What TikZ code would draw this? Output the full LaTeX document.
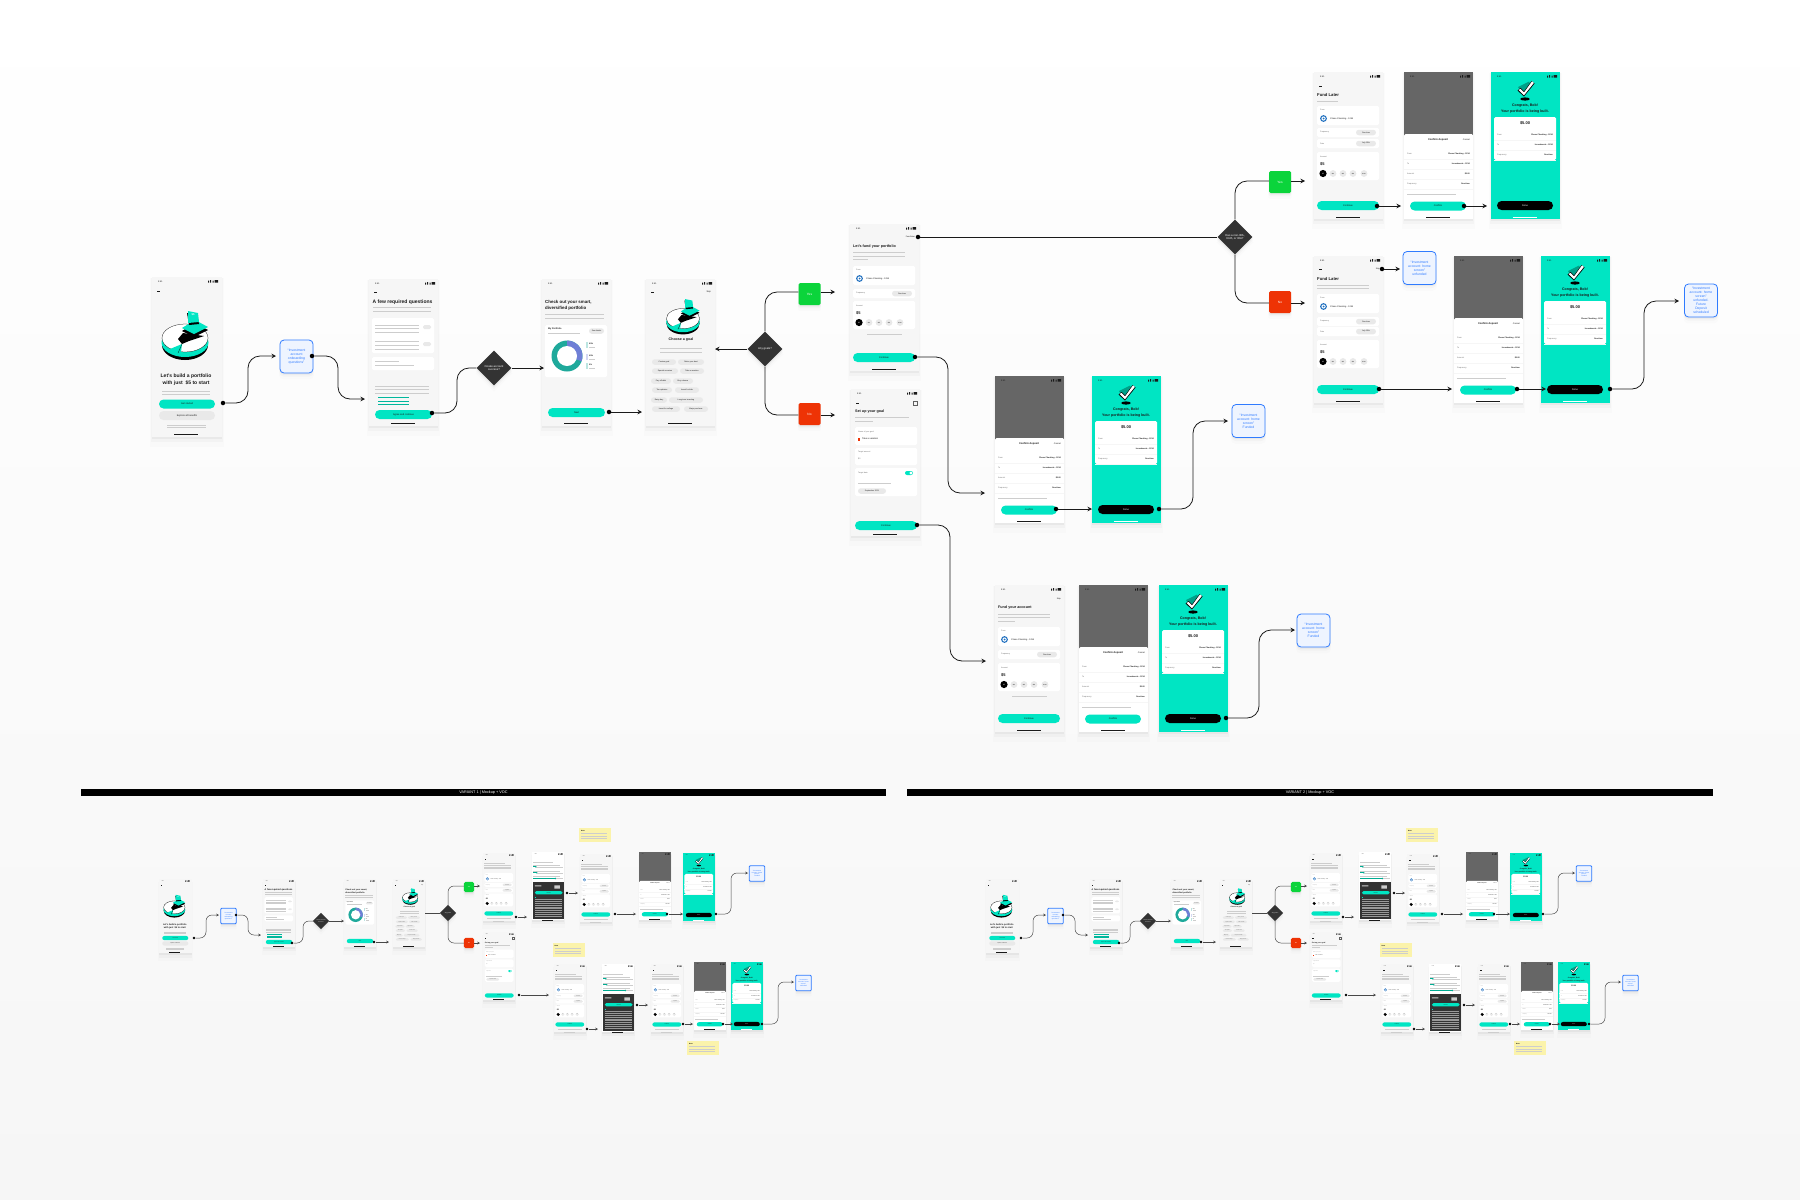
\documentclass[tikz,border=0pt]{standalone}
\usepackage{fontspec}
\setmainfont{Liberation Sans}
\usetikzlibrary{arrows.meta,shapes.geometric,shapes.misc,shadows}
\definecolor{mint}{HTML}{00E5C3}
\definecolor{paper}{HTML}{F6F6F6}
\definecolor{ink}{HTML}{1A1A1A}
\definecolor{faint}{HTML}{CDCDCD}
\definecolor{chipgray}{HTML}{E9E9E9}
\definecolor{slate}{HTML}{333333}
\definecolor{curtain}{HTML}{666666}
\definecolor{bankblue}{HTML}{1F6FBF}
\definecolor{goodgreen}{HTML}{0BD43B}
\definecolor{badred}{HTML}{EE3305}
\definecolor{infoblue}{HTML}{2F7BFF}
\definecolor{infofill}{HTML}{EEF4FF}
\definecolor{notepaper}{HTML}{FBF3AB}
\definecolor{donutteal}{HTML}{1FA99B}
\definecolor{donutblue}{HTML}{6F7FD6}
\newcounter{bitno}
\tikzset{
  sz/.style={font=\fontsize{#1}{#1}\selectfont\setlength\baselineskip{1.15\baselineskip}},
  bittext/.style={inner sep=0,text=ink,sz=2.3,anchor=west,align=left},
  softshadow/.style={
    general shadow={shadow yshift=-1.5pt,shadow scale=1.01,fill=black,opacity=.04},
    general shadow={shadow yshift=-3pt,shadow scale=1.03,fill=black,opacity=.025},
    general shadow={shadow yshift=-5pt,shadow scale=1.06,fill=black,opacity=.012}},
  screen/.style={rectangle,fill=paper,inner sep=0,softshadow},
  btn/.style={rounded rectangle,fill=mint,inner sep=0,minimum height=9,text=ink,sz=2.4},
  chip/.style={rounded rectangle,fill=chipgray,inner sep=0,minimum height=5.5,text=ink,sz=1.9},
  decision/.style={diamond,fill=slate,text=white,inner sep=0,aspect=1,minimum size=35,align=center,sz=2.8,softshadow},
  yesbox/.style={rectangle,rounded corners=1.5,fill=goodgreen,text=white,minimum width=22,minimum height=22,inner sep=0,sz=3.2,softshadow},
  nobox/.style={yesbox,fill=badred},
  infonote/.style={rectangle,rounded corners=4,draw=infoblue,line width=.8pt,fill=infofill,text=infoblue,
    minimum width=33,minimum height=33,inner sep=0,align=center,sz=3.4,softshadow},
  stickynote/.style={rectangle,fill=notepaper,inner sep=0,minimum width=32,minimum height=14},
  banner/.style={rectangle,fill=black,text=white,inner sep=0,minimum height=7.5,sz=3.8},
  startdot/.style={circle,fill=black,inner sep=0,minimum size=4.5},
  link/.style={draw=ink,line width=.8pt,rounded corners=12},
  flow/.style={link,-{Stealth[length=4.5pt,width=4.5pt]}},
  minidot/.style={startdot,minimum size=2.6},
  minilink/.style={draw=ink!80,line width=.5pt,rounded corners=6},
  miniflow/.style={minilink,-{Stealth[length=2.8pt,width=2.8pt]}},
  minishape/.style={scale=.465,transform shape},
  minibox/.style={minishape,rounded corners=.8}
}
\newcommand{\bit}[4][]{\stepcounter{bitno}\node[bittext,#1] (bit\arabic{bitno}) at (#2,#3) {#4};}
\newcommand{\pillbtn}[5][]{\stepcounter{bitno}\node[btn,minimum width=#4,#1] (bit\arabic{bitno}) at (#2,#3) {#5};}
\newcommand{\chipbit}[5][]{\stepcounter{bitno}\node[chip,minimum width=#4,#1] (bit\arabic{bitno}) at (#2,#3) {#5};}
\newcommand{\card}[4]{\fill[white,rounded corners=1.5] (#1,#2) rectangle (#3,#4);}
\newcommand{\greylines}[3]{\foreach \yy in {#3} {\fill[faint] (#1,\yy-.45) rectangle (#2,\yy+.45);}}
\newcommand{\statusbar}[1][ink]{
  \bit[sz=2.2,text=#1]{6}{4.5}{9:41}
  \fill[#1] (56,5.5) rectangle (57,3.5) (58,5.5) rectangle (59,3) (60.5,5.5) rectangle (61.5,3.5) (62.5,5.5) rectangle (66,3.2);
}
\newcommand{\homebar}[2][ink]{\fill[#1] (22,#2-.5) rectangle (46,#2+.5);}
\newcommand{\backarrow}[1]{\fill[ink] (5,#1-.3) rectangle (7.5,#1+.3);}
% the cards of the funding forms
\newcommand{\fromcard}[1]{
  \card{3}{#1}{65}{#1+19}
  \bit[sz=1.9,text=black!55]{6}{#1+4}{From}
  \fill[bankblue] (9.5,#1+12.5) circle (3.4);
  \fill[white] (9.5,#1+12.5) circle (2.1);
  \fill[bankblue] (9.5,#1+12.5) circle (1);
  \bit[sz=2.2]{16}{#1+12.5}{Chase Checking - 1234}
}
\newcommand{\freqcard}[1]{
  \card{3}{#1}{65}{#1+9}
  \bit[sz=1.9,text=black!55]{6}{#1+4.5}{Frequency}
  \chipbit{52}{#1+4.5}{20}{One-time}
}
\newcommand{\datecard}[1]{
  \card{3}{#1}{65}{#1+9}
  \bit[sz=1.9,text=black!55]{6}{#1+4.5}{Date}
  \chipbit{52}{#1+4.5}{20}{July 15th}
}
\newcommand{\amountcard}[1]{
  \card{3}{#1}{65}{#1+28}
  \bit[sz=1.9,text=black!55]{6}{#1+4.5}{Amount}
  \bit[sz=4,font=\fontsize{4}{4}\bfseries]{6}{#1+12.5}{\$5}
  \fill[black] (9,#1+21.5) circle (3.6);
  \bit[sz=1.6,text=white,anchor=center]{9}{#1+21.5}{\$5}
  \foreach \cx/\cl in {19/\$10,29/\$15,39/\$50,50/\$100} {
    \fill[chipgray] (\cx,#1+21.5) circle (3.4);
    \bit[sz=1.5,anchor=center]{\cx}{#1+21.5}{\cl}
  }
}
\newcommand{\diskart}[3]{
  \begin{scope}[shift={(#1,#2)},scale=#3]
    \fill[black] (0,5) ellipse [x radius=23,y radius=15];
    \fill[mint] (0,2.5) ellipse [x radius=23.5,y radius=14.5];
    \fill[white] (0,-2) ellipse [x radius=23,y radius=14];
    \draw[black,line width=.25pt] (0,-2) ellipse [x radius=23,y radius=14];
    \fill[black] (-7,-1) -- (-2,-7) -- (19,-4) -- (4,1) -- (-3,4) -- cycle;
    \fill[mint] (-15,9) -- (-12,12) -- (-4,12) -- (-3,4) -- cycle;
    \draw[black,line width=.25pt] (-3,4) -- (-7,13);
    \fill[black] (-3,-9) -- (10,-17) -- (23,-10) -- (9,-3) -- cycle;
    \fill[mint] (-3,-12) -- (10,-20) -- (23,-13) -- (9,-6) -- cycle;
    \fill[black] (2,-27) -- (12,-26) -- (14,-16) -- (4,-15) -- cycle;
    \fill[mint] (3,-29) -- (13,-27) -- (14,-18) -- (3,-17) -- cycle;
  \end{scope}
}
\newcommand{\checkart}{
  \fill[black] (34,27) ellipse [x radius=4.8,y radius=1.6];
  \fill[mint!70!black] (27,15) -- (38,9.5) -- (41,15) -- (32,23) -- cycle;
  \fill[black] (26.5,18.5) -- (29.5,16) -- (33,19.5) -- (40.5,9) -- (43.5,11.5) -- (33,24.5) -- cycle;
  \fill[white] (27.5,18) -- (29.5,16.8) -- (33,20.5) -- (41,9.3) -- (42.8,11) -- (33,23.3) -- cycle;
}
\tikzset{
  welcomescreen/.pic={
    \node[screen,minimum width=70,minimum height=160] (-frame) at (35,80) {};
    \statusbar
    \backarrow{14}
    \diskart{33}{63}{1}
    \bit[sz=2.6,text=white,anchor=center]{41}{38}{\bfseries\$5}
    \bit[anchor=center,align=center,font=\fontsize{5}{7}\selectfont\bfseries]{34}{102.5}{Let's build a portfolio\\with just \ \$5 to start}
    \greylines{10}{58}{114,117.5}
    \pillbtn{35}{127}{56}{Get started}
    \pillbtn[fill=chipgray]{35}{138.5}{56}{Explore all benefits}
    \greylines{15}{54}{148,150.5}
    \homebar{157}
  },
  questionscreen/.pic={
    \node[screen,minimum width=69,minimum height=147] (-frame) at (34.5,73.5) {};
    \statusbar
    \backarrow{13}
    \bit[font=\fontsize{5}{5}\selectfont\bfseries]{3.5}{23}{A few required questions}
    \greylines{3.5}{62}{28,32}
    \card{3}{39}{65}{74}
    \greylines{6}{50}{46,49.5,53,62,66,70}
    \fill[chipgray,rounded corners=1.5] (54,46) rectangle (62,50) (54,63) rectangle (62,67);
    \card{3}{78}{65}{91}
    \greylines{6}{30}{82}
    \greylines{6}{45}{86}
    \greylines{6}{60}{107,110.5,114}
    \foreach \yy in {118,122,125} {\fill[mint!80!black] (9,\yy-.4) rectangle (40,\yy+.4);}
    \pillbtn{34.5}{135.5}{57}{Agree and continue}
    \homebar{144}
  },
  portfolioscreen/.pic={
    \node[screen,minimum width=69,minimum height=147] (-frame) at (34.5,73.5) {};
    \statusbar
    \bit[font=\fontsize{4.4}{6.6}\selectfont\bfseries]{3}{26.5}{Check out your smart,\\diversified portfolio}
    \greylines{3}{62}{35,39}
    \card{3}{46}{65}{98}
    \bit[sz=2.2,font=\fontsize{2.3}{3}\bfseries]{6}{50}{My Portfolio}
    \greylines{6}{38}{54}
    \chipbit{54.5}{52}{15}{See details}
    \fill[donutteal] (25,77) circle (15.5);
    \fill[donutblue] (25,77) -- (25,61.5) arc [start angle=-90,end angle=20,radius=15.5] -- cycle;
    \fill[white] (25,77) circle (10);
    \foreach \ly/\lv/\lc in {66/60\%/donutteal!30,78/40\%/donutblue!30,87/0\%/donutteal!30} {
      \fill[\lc] (44,\ly-3) rectangle (45.5,\ly+3);
      \bit[sz=2,font=\fontsize{2}{2}\bfseries]{47}{\ly-1.2}{\lv}
      \greylines{47}{53}{\ly+2}
    }
    \pillbtn{34.5}{133.5}{57}{Next}
    \homebar{144}
  },
  goalpickscreen/.pic={
    \node[screen,minimum width=69,minimum height=147] (-frame) at (34.5,73.5) {};
    \statusbar
    \backarrow{13}
    \bit[sz=2.2,anchor=east]{65}{13}{Skip}
    \diskart{37}{41}{.72}
    \bit[anchor=center,font=\fontsize{3.6}{4}\selectfont\bfseries]{35}{61}{Choose a goal}
    \greylines{14}{56}{69,73}
    \foreach \cx/\cy/\cw/\cl in {18/83/24/Custom goal,45/83/26/Retire your best,
      19/92/26/Special occasion,46/92/24/Take a vacation,
      15/102/20/Pay off debt,37/102/20/Buy a house,
      16/111/20/Tax-optimize,41/111/24/Invest for kids,
      13/121/16/Rainy day,40/121/34/Long term investing,
      20/130/28/Invest for college,50/130/24/Major purchase} {
      \chipbit{\cx}{\cy}{\cw}{\cl}
    }
    \homebar{144}
  },
  fundscreen/.pic={
    \node[screen,minimum width=69,minimum height=147] (-frame) at (34.5,73.5) {};
    \statusbar
    \bit[sz=2,anchor=east]{65}{13}{Fund later}
    \bit[font=\fontsize{3.7}{4}\selectfont\bfseries]{3}{23}{Let's fund your portfolio}
    \greylines{3}{55}{28,32}
    \greylines{3}{18}{35}
    \fromcard{42}
    \freqcard{65}
    \amountcard{77}
    \greylines{17}{52}{110}
    \pillbtn{34}{133.5}{62}{Continue}
    \homebar{145}
  },
  goalscreen/.pic={
    \node[screen,minimum width=69,minimum height=147] (-frame) at (34.5,73.5) {};
    \statusbar
    \backarrow{14}
    \draw[ink!70,line width=.2pt] (62,12) rectangle (66,16);
    \bit[font=\fontsize{3.7}{4}\selectfont\bfseries]{4}{23}{Set up your goal}
    \greylines{4}{58}{28}
    \greylines{4}{22}{32}
    \card{4}{38}{66}{56}
    \bit[sz=1.9,text=black!55]{7}{43}{Name of your goal}
    \fill[badred] (7,49) rectangle (9,52);
    \bit[sz=2.3]{11}{50}{Take a vacation}
    \card{4}{59}{66}{76}
    \bit[sz=1.9,text=black!55]{7}{63}{Target amount}
    \bit[sz=2,text=black!55]{7}{70}{\$0}
    \card{4}{79}{66}{107}
    \bit[sz=1.9,text=black!55]{7}{84}{Target date}
    \stepcounter{bitno}
    \node[chip,fill=mint,minimum width=8,minimum height=4] (bit\arabic{bitno}) at (58,84) {};
    \fill[white] (60,84) circle (1.6);
    \greylines{7}{40}{94}
    \chipbit{21}{102}{28}{September 2021}
    \pillbtn{35}{136.5}{62}{Continue}
    \homebar{145}
  },
  fundlaterscreen/.pic={
    \node[screen,minimum width=69,minimum height=147] (-frame) at (34.5,73.5) {};
    \statusbar
    \backarrow{14}
    \bit[font=\fontsize{4.2}{4.5}\selectfont\bfseries]{3}{23}{Fund Later}
    \greylines{3}{24}{29}
    \fromcard{34}
    \freqcard{56}
    \datecard{67}
    \amountcard{80}
    \pillbtn{34}{133.5}{62}{Continue}
    \homebar{145}
  },
  skiplaterscreen/.pic={
    \node[screen,minimum width=69,minimum height=147] (-frame) at (34.5,73.5) {};
    \statusbar
    \backarrow{13}
    \bit[sz=2,anchor=east]{66}{13}{Skip}
    \bit[font=\fontsize{4.2}{4.5}\selectfont\bfseries]{3}{23}{Fund Later}
    \greylines{3}{55}{29,32}
    \fromcard{38}
    \freqcard{61}
    \datecard{71}
    \amountcard{84}
    \pillbtn{34}{133.5}{62}{Continue}
    \homebar{145}
  },
  accountscreen/.pic={
    \node[screen,minimum width=69,minimum height=147] (-frame) at (34.5,73.5) {};
    \statusbar
    \bit[sz=2,anchor=east]{66}{14}{Skip}
    \bit[font=\fontsize{3.7}{4}\selectfont\bfseries]{3}{23}{Fund your account}
    \greylines{3}{55}{29,32}
    \greylines{3}{20}{36}
    \fromcard{42}
    \freqcard{65}
    \amountcard{78}
    \greylines{17}{52}{111}
    \pillbtn{34}{133.5}{62}{Continue}
    \homebar{145}
  },
  confirmscreen/.pic={
    \node[screen,fill=white,minimum width=69,minimum height=147] (-frame) at (34.5,73.5) {};
    \fill[curtain] (0,0) rectangle (69,64);
    \fill[white,rounded corners=1.5] (0,62) rectangle (69,70);
    \statusbar
    \bit[anchor=center,font=\fontsize{2.6}{3}\selectfont\bfseries]{34}{68}{Confirm deposit}
    \bit[anchor=east,sz=2.2]{66}{68}{Cancel}
    \foreach \ry/\rl/\rv in {82/From/Chase Checking - 1234,92/To/Investments - 1234,
      102/Amount/\$5.00,112/Frequency/One-time} {
      \bit[sz=2,text=black!55]{3}{\ry}{\rl}
      \bit[sz=2,anchor=east,font=\fontsize{2}{2}\bfseries]{66}{\ry}{\rv}
      \fill[paper] (0,\ry+4.7) rectangle (69,\ry+5.3);
    }
    \greylines{3}{52}{122}
    \pillbtn{34}{134}{56}{Confirm}
    \homebar{145}
  },
  congratsscreen/.pic={
    \node[screen,fill=mint,minimum width=69,minimum height=147] (-frame) at (34.5,73.5) {};
    \statusbar
    \checkart
    \bit[anchor=center,align=center,font=\fontsize{3.6}{6}\selectfont\bfseries]{34}{37}{Congrats, Bob!\\Your portfolio is being built.}
    \card{3}{45}{65}{88}
    \bit[anchor=center,font=\fontsize{4}{4}\selectfont\bfseries]{34}{51}{\$5.00}
    \foreach \ry/\rl/\rv in {63/From/Chase Checking - 1234,73/To/Investments - 1234,83/Frequency/One-time} {
      \bit[sz=2,text=black!55]{6}{\ry}{\rl}
      \bit[sz=2,anchor=east,font=\fontsize{2}{2}\bfseries]{62}{\ry}{\rv}
      \fill[paper] (3,\ry+4.7) rectangle (65,\ry+5.3);
    }
    \pillbtn[fill=black,text=white]{34}{133.5}{56}{Done}
    \homebar[white]{145}
  },
  planscreen/.pic={
    \node[screen,fill=white,minimum width=69,minimum height=147] (-frame) at (34.5,73.5) {};
    \statusbar
    \greylines{3}{45}{21}
    \foreach \sy/\sx in {31.6/8,44.5/10,57/50} {
      \greylines{3}{60}{\sy-4}
      \fill[mint!75!black] (3,\sy-.6) rectangle (\sx,\sy+.6);
      \fill[faint] (\sx,\sy-.4) rectangle (66,\sy+.4);
      \fill[mint!75!black] (\sx,\sy) circle (1.8);
    }
    \fill[slate] (3,64.5) rectangle (69,143);
    \pillbtn[minimum height=7]{36}{87.5}{60}{Continue}
    \fill[white!80!black] (6,72) rectangle (20,74) (48,72) rectangle (60,79);
    \foreach \yy in {102,106,...,138} {\fill[white!50!slate] (6,\yy-.6) rectangle (64,\yy+.6);}
    \fill[mint] (6,97) rectangle (8,99);
    \homebar{146}
  },
  fundextrascreen/.pic={
    \node[screen,minimum width=69,minimum height=147] (-frame) at (34.5,73.5) {};
    \statusbar
    \backarrow{14}
    \greylines{3}{48}{21.5}
    \greylines{3}{60}{27,30,33}
    \fromcard{43}
    \freqcard{64}
    \datecard{76}
    \amountcard{87}
    \pillbtn{34}{130}{62}{Continue}
    \greylines{8}{60}{140}
    \homebar[faint]{146}
  }
}
% one complete small flow, the same in both variants
\newcommand{\smallflow}{
  \pic[minishape] (ma) at (159,879) {welcomescreen};
  \pic[minishape] (mb) at (263,879) {questionscreen};
  \pic[minishape] (mc) at (344,879) {portfolioscreen};
  \pic[minishape] (md) at (393,879) {goalpickscreen};
  \pic[minishape] (me) at (483,853) {fundextrascreen};
  \pic[minishape] (mf) at (483,932) {goalscreen};
  \pic[minishape] (mg) at (532,852) {planscreen};
  \pic[minishape] (mh) at (580,854) {fundextrascreen};
  \pic[minishape] (mi) at (639,852) {confirmscreen};
  \pic[minishape] (mj) at (683,853) {congratsscreen};
  \pic[minishape] (mk) at (554,964) {fundextrascreen};
  \pic[minishape] (ml) at (602,964) {planscreen};
  \pic[minishape] (mm) at (651,964) {fundextrascreen};
  \pic[minishape] (mn) at (694,962) {confirmscreen};
  \pic[minishape] (mo) at (731,962) {congratsscreen};
  \node[infonote,minibox] (mnote1) at (228.5,916) {“Investment\\account\\onboarding\\questions”};
  \node[infonote,minibox] (mnote2) at (757,873.5) {“Investment\\account: home\\screen”\\Funded};
  \node[infonote,minibox] (mnote3) at (803.5,983) {“Investment\\account: home\\screen”\\unfunded};
  \node[decision,minishape] (mq1) at (321,921) {Create account\\success?};
  \node[decision,minishape] (mq2) at (448,913) {Any goals?};
  \node[yesbox,minishape] (myes) at (469,887) {Yes};
  \node[nobox,minishape] (mno) at (469,943) {No};
  \foreach \sname/\sx/\sy in {sticky1/595/835,sticky2/568.5/950,sticky3/703/1048} {
    \node[stickynote] (\sname) at (\sx,\sy) {};
    \node[inner sep=0,anchor=west,font=\fontsize{1.6}{2}\selectfont\bfseries] (\sname label) at (\sx-14,\sy-4.5) {Note};
    \greylines{\sx-14}{\sx+12}{\sy-1.5,\sy+1,\sy+3.5}
  }
  \foreach \dname/\dx/\dy in {mda/194/938,mdb/236/915,mdc/292/943,mdd/374/942,mde/516/917,mdf/519/995,
    mdg/567/893,mdh/615/914,mdi/667/914,mdj/716/914,mdk/587/1029,mdl/637/1005,mdm/683/1024,mdn/723/1024,mdo/762/1024} {
    \node[minidot] (\dname) at (\dx,\dy) {};
  }
  \foreach \aname/\ax/\ay in {maa/219/915,mab/261/935,mac/344/921,mad/389/942,mae/480/886,maf/480/943,
    mag/527/917,mah/549/995,mai/578/893,maj/636/914,mak/683/914,mal/748/873,mam/598/1029,man/648/1005,
    mao/693/1024,map/733/1024,maq/794/982} {
    \coordinate (\aname) at (\ax,\ay);
  }
  \draw[miniflow] (mda) -- ++(12,0) |- (maa);
  \draw[miniflow] (mdb) -- ++(12,0) |- (mab);
  \draw[minilink] (mdc) -- ++(11,0) |- (mq1);
  \draw[miniflow] (mq1) -- (mac);
  \draw[miniflow] (mdd) -- (mad);
  \draw[minilink] (md-frame.east |- mq2) -- (mq2);
  \draw[minilink] (mq2) |- (myes.west |- mae);
  \draw[miniflow] (myes.east |- mae) -- (mae);
  \draw[minilink] (mq2) |- (mno);
  \draw[miniflow] (mno) -- (maf);
  \draw[miniflow] (mde) -- (mag);
  \draw[miniflow] (mdf) -- (mah);
  \draw[miniflow] (mdg) -- (mai);
  \draw[miniflow] (mdh) -- (maj);
  \draw[miniflow] (mdi) -- (mak);
  \draw[miniflow] (mdj) -- ++(15,0) |- (mal);
  \draw[miniflow] (mdk) -- (mam);
  \draw[miniflow] (mdl) -- (man);
  \draw[miniflow] (mdm) -- (mao);
  \draw[miniflow] (mdn) -- (map);
  \draw[miniflow] (mdo) -- ++(16,0) |- (maq);
}
\begin{document}
\begin{tikzpicture}[x=1pt,y=-1pt]
\useasboundingbox (0,0) rectangle (1800,1200);
\shade[top color=white,middle color=white,bottom color=paper] (0,0) rectangle (1800,1200);
% large flow, screens
\pic (p1) at (152,277) {welcomescreen};
\pic (p2) at (369,279) {questionscreen};
\pic (p3) at (542,279) {portfolioscreen};
\pic (p4) at (646,279) {goalpickscreen};
\pic (p5) at (850,224) {fundscreen};
\pic (p6) at (851,389) {goalscreen};
\pic (p7) at (1314,72) {fundlaterscreen};
\pic (p8) at (1404,72) {confirmscreen};
\pic (p9) at (1491,72) {congratsscreen};
\pic (p10) at (1314,256) {skiplaterscreen};
\pic (p11) at (1454,256) {confirmscreen};
\pic (p12) at (1541,256) {congratsscreen};
\pic (p13) at (995,376) {confirmscreen};
\pic (p14) at (1092,376) {congratsscreen};
\pic (p15) at (995,585) {accountscreen};
\pic (p16) at (1079,585) {confirmscreen};
\pic (p17) at (1159,585) {congratsscreen};
% notes
\node[infonote] (note1) at (296.5,356.5) {“Investment\\account\\onboarding\\questions”};
\node[infonote] (note2) at (1419.5,268) {“Investment\\account: home\\screen”\\unfunded};
\node[infonote] (note3) at (1701,300.5) {“Investment\\account: home\\screen”\\unfunded.\\Future\\Deposit\\scheduled};
\node[infonote] (note4) at (1248.5,421) {“Investment\\account: home\\screen”\\Funded};
\node[infonote] (note5) at (1313.5,630.5) {“Investment\\account: home\\screen”\\Funded};
% decisions
\node[decision] (q1) at (494,368) {Create account\\success?};
\node[decision] (q2) at (765,349) {Any goals?};
\node[decision] (q3) at (1235,237) {Has a non-IRA,\\Roth, or IRA?};
\node[yesbox] (yes1) at (809.5,294) {Yes};
\node[nobox] (no1) at (809.5,414) {No};
\node[yesbox] (yes2) at (1280,182) {Yes};
\node[nobox] (no2) at (1280,302) {No};
% start dots and arrow ends
\foreach \dname/\dx/\dy in {d1/223/403,d2/312/356,d3/432/413,d4/609/412,d5/918/237,d6/915/357,d7/917/525,
  d8/1377/206,d9/1464/206,d10/1382/269,d11/1379/389,d12/1517/389,d13/1610/389,d14/1056/509,d15/1159/509,d16/1226/718} {
  \node[startdot] (\dname) at (\dx,\dy) {};
}
\foreach \aname/\ax/\ay in {a1/276/356,a2/365/399,a3/544/368,a4/642/412,a5/715/349,a6/835/292,a7/835/415,
  a8/1305/181,a9/1305/303,a10/985/493,a11/986/661,a12/1401/206,a13/1487/206,a14/1400/269,a15/1452/389,
  a16/1546/389,a17/1679/301,a18/1092/509,a19/1228/421,a20/1295/630} {
  \coordinate (\aname) at (\ax,\ay);
}
% connectors
\draw[flow] (d1) -- ++(25,0) |- (a1);
\draw[flow] (d2) -- ++(26,0) |- (a2);
\draw[link] (d3) -- ++(25,0) |- (q1);
\draw[flow] (q1) -- (a3);
\draw[flow] (d4) -- (a4);
\draw[flow] (q2) -- (a5);
\draw[link] (q2) |- (yes1.west |- a6);
\draw[flow] (yes1.east |- a6) -- (a6);
\draw[link] (q2) |- (no1.west |- a7);
\draw[flow] (no1.east |- a7) -- (a7);
\draw[link] (d5) -- (q3);
\draw[link] (q3) |- (yes2.west |- a8);
\draw[flow] (yes2.east |- a8) -- (a8);
\draw[link] (q3) |- (no2.west |- a9);
\draw[flow] (no2.east |- a9) -- (a9);
\draw[flow] (d6) -- ++(33,0) |- (a10);
\draw[flow] (d7) -- ++(33,0) |- (a11);
\draw[flow] (d8) -- (a12);
\draw[flow] (d9) -- (a13);
\draw[flow] (d10) -- (a14);
\draw[flow] (d11) -- (a15);
\draw[flow] (d12) -- (a16);
\draw[flow] (d13) -- ++(34,0) |- (a17);
\draw[flow] (d14) -- (a18);
\draw[flow] (d15) -- ++(34,0) |- (a19);
\draw[flow] (d16) -- ++(33,0) |- (a20);
% the two variants below
\node[banner,minimum width=805] (bar1) at (483.5,792.5) {VARIANT 1 | Mockup + VOC};
\node[banner,minimum width=806] (bar2) at (1310,792.5) {VARIANT 2 | Mockup + VOC};
\smallflow
\begin{scope}[xshift=827pt,name prefix=r]
  \smallflow
\end{scope}
\end{tikzpicture}
\end{document}
